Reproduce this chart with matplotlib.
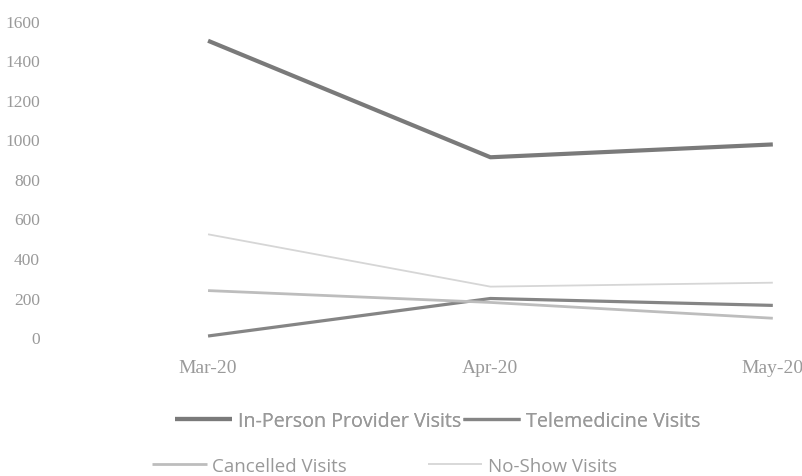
import matplotlib
matplotlib.use("Agg")
import matplotlib.pyplot as plt

months = ["Mar-20", "Apr-20", "May-20"]
in_person = [1500, 910, 975]
telemedicine = [5, 195, 160]
cancelled = [235, 175, 95]
no_show = [520, 255, 275]
y_ticks = [0, 200, 400, 600, 800, 1000, 1200, 1400, 1600]

series = [
    ("In-Person Provider Visits", in_person, "#7a7a7a", 3.0),
    ("Telemedicine Visits", telemedicine, "#858585", 2.3),
    ("Cancelled Visits", cancelled, "#bdbdbd", 2.0),
    ("No-Show Visits", no_show, "#d6d6d6", 1.3),
]

fig = plt.figure(figsize=(8.03, 4.77), dpi=100)
ax = fig.add_axes([0.2415, 0.2914, 0.7385, 0.6625])
x = list(range(len(months)))
handles = []
for name, vals, col, lw in series:
    ln, = ax.plot(x, vals, color=col, lw=lw, solid_capstyle="butt", clip_on=False, label=name)
    handles.append(ln)

ax.set_xlim(-0.05, 2.05)
ax.set_ylim(0, 1600)
ax.set_xticks(x)
ax.set_xticklabels(months, family="Liberation Serif", fontsize=14, color="#9a9a9a")
ax.set_yticks(y_ticks)
ax.set_yticklabels([str(v) for v in y_ticks], family="Liberation Serif", fontsize=12.5, color="#9a9a9a")
ax.tick_params(axis="y", length=0, pad=111)
ax.tick_params(axis="x", length=0, pad=16)
for s in ax.spines.values():
    s.set_visible(False)

leg1 = fig.legend(handles[:2], [h.get_label() for h in handles[:2]], ncol=2,
                  loc="center", bbox_to_anchor=(0.545, 1 - 422 / 477), frameon=False,
                  prop=dict(family="Open Sans", size=14.2), handlelength=2.9,
                  handletextpad=0.3, columnspacing=0.1, labelcolor="#999999")
leg2 = fig.legend(handles[2:], [h.get_label() for h in handles[2:]], ncol=2,
                  loc="center", bbox_to_anchor=(0.479, 1 - 467 / 477), frameon=False,
                  prop=dict(family="Open Sans", size=13.5), handlelength=2.9,
                  handletextpad=0.3, columnspacing=4.3, labelcolor="#999999")
fig.add_artist(leg1)

fig.savefig("out.png", dpi=100)
